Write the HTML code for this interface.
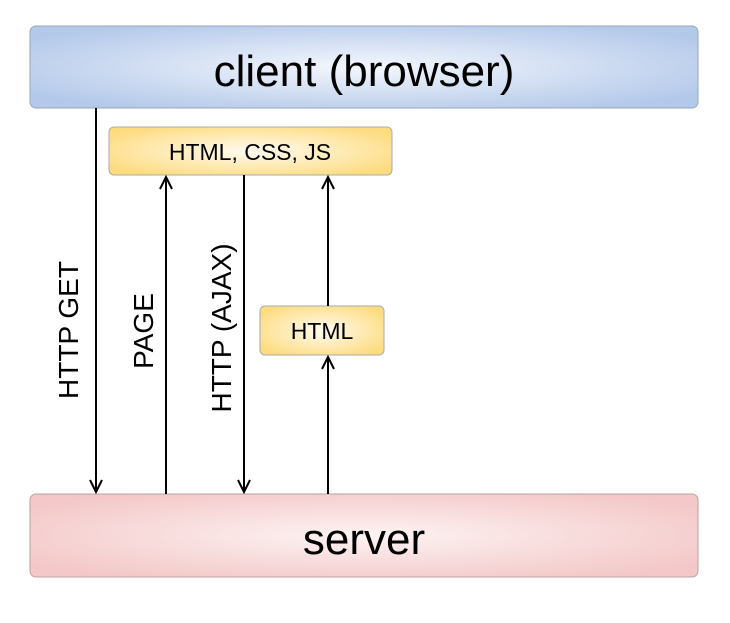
<!DOCTYPE html>
<html><head><meta charset="utf-8"><style>body{margin:0;background:#fff}</style></head><body>
<svg width="730" height="618" viewBox="0 0 730 618" xmlns="http://www.w3.org/2000/svg" font-family="Liberation Sans, sans-serif">
<defs>
<radialGradient id="b" cx="50%" cy="50%" r="60%"><stop offset="0" stop-color="#f4f7fd"/><stop offset="1" stop-color="#b4c9ea"/></radialGradient>
<radialGradient id="r" cx="50%" cy="50%" r="60%"><stop offset="0" stop-color="#fdf3f3"/><stop offset="1" stop-color="#f4c8c8"/></radialGradient>
<radialGradient id="y" cx="50%" cy="50%" r="60%"><stop offset="0" stop-color="#fffaf0"/><stop offset="1" stop-color="#fddc80"/></radialGradient>
<marker id="a" markerWidth="16" markerHeight="16" refX="13" refY="7" orient="auto" markerUnits="userSpaceOnUse"><path d="M1 1 L13 7 L1 13" fill="none" stroke="#000" stroke-width="2"/></marker>
</defs>
<rect x="30" y="26" width="668" height="82" rx="6" fill="url(#b)" stroke="#9aa6b8" stroke-width="1"/>
<text x="364" y="86" font-size="44" text-anchor="middle">client (browser)</text>
<rect x="30" y="494" width="668" height="83" rx="6" fill="url(#r)" stroke="#b8a0a0" stroke-width="1"/>
<text x="364" y="554" font-size="44" text-anchor="middle">server</text>
<rect x="109" y="127" width="283" height="48" rx="5" fill="url(#y)" stroke="#aaa" stroke-width="1"/>
<text x="250" y="160" font-size="23" text-anchor="middle">HTML, CSS, JS</text>
<rect x="260" y="306" width="124" height="49" rx="5" fill="url(#y)" stroke="#aaa" stroke-width="1"/>
<text x="322" y="339" font-size="23" text-anchor="middle">HTML</text>
<g stroke="#000" stroke-width="2" fill="none">
<line x1="96" y1="108" x2="96" y2="492" marker-end="url(#a)"/>
<line x1="166" y1="494" x2="166" y2="177" marker-end="url(#a)"/>
<line x1="244" y1="175" x2="244" y2="492" marker-end="url(#a)"/>
<line x1="328" y1="494" x2="328" y2="357" marker-end="url(#a)"/>
<line x1="328" y1="306" x2="328" y2="177" marker-end="url(#a)"/>
</g>
<g font-size="28" text-anchor="middle">
<text transform="translate(78,330) rotate(-90)">HTTP GET</text>
<text transform="translate(153,331) rotate(-90)">PAGE</text>
<text transform="translate(231,328) rotate(-90)">HTTP (AJAX)</text>
</g>
</svg>
</body></html>
